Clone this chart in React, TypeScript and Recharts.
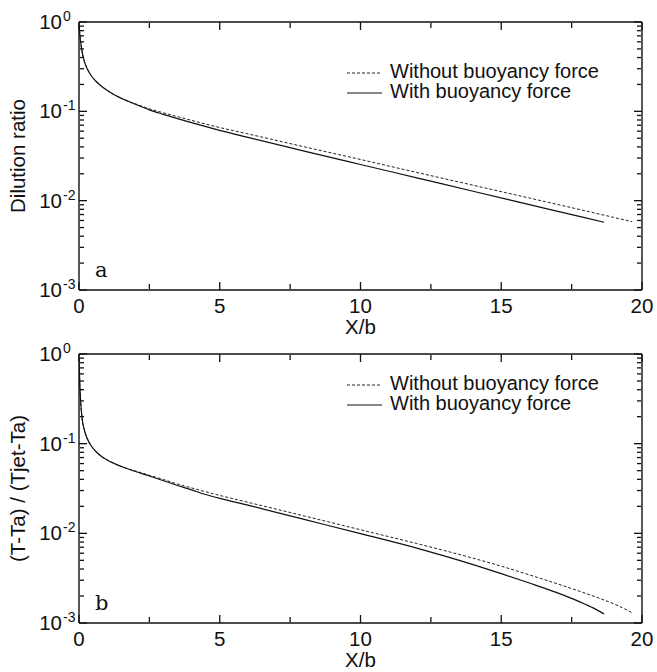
import React from "react";
import { LineChart, Line, XAxis, YAxis } from "recharts";

const FONT = "'Liberation Sans', Arimo, Roboto, Arial, Helvetica, sans-serif";
const FS = 20.5;

// tick values
const xMajorTicks = [0, 5, 10, 15, 20];
const xMinorTicks = [2.5, 7.5, 12.5, 17.5];
const decades = [0.001, 0.01, 0.1, 1];
const minorSteps = [2, 3, 4, 5, 6, 7, 8, 9];
const seriesNames = ["Without buoyancy force", "With buoyancy force"];

// panel a: dilution ratio
const aWithX = [0, 0.05, 0.1, 0.2, 0.3, 0.45, 0.6, 0.8, 1, 1.25, 1.5, 1.75, 2, 2.5, 3, 3.5, 4, 4.8, 6, 8, 10, 12, 14, 16, 18, 18.65];
const aWithY = [0.925, 0.628, 0.484, 0.355, 0.296, 0.247, 0.217, 0.191, 0.172, 0.153, 0.14, 0.1295, 0.1199, 0.1039, 0.0925, 0.0828, 0.0746, 0.0636, 0.051, 0.0359, 0.0254, 0.018, 0.01275, 0.00904, 0.00641, 0.00573];
const aWithoutX = [0, 0.05, 0.1, 0.2, 0.3, 0.45, 0.6, 0.8, 1, 1.25, 1.5, 1.75, 2, 2.5, 3, 3.5, 4, 4.8, 6, 8, 10, 12, 14, 16, 18, 19, 19.65];
const aWithoutY = [0.925, 0.628, 0.484, 0.355, 0.296, 0.247, 0.217, 0.191, 0.172, 0.153, 0.14, 0.1295, 0.1214, 0.1067, 0.0962, 0.0872, 0.0792, 0.0682, 0.0559, 0.0401, 0.0289, 0.0207, 0.01489, 0.0107, 0.00768, 0.00649, 0.00581];

// panel b: temperature ratio
const bWithX = [0, 0.03, 0.06, 0.1, 0.2, 0.3, 0.45, 0.6, 0.8, 1, 1.25, 1.5, 1.75, 2, 2.5, 3, 3.5, 4, 4.5, 5, 6, 8, 10, 12, 13, 14, 15, 16, 17, 17.5, 18, 18.3, 18.65];
const bWithY = [0.902, 0.451, 0.2917, 0.2036, 0.1385, 0.1128, 0.093, 0.0818, 0.072, 0.0658, 0.0602, 0.0557, 0.0522, 0.049, 0.0436, 0.0386, 0.0342, 0.0305, 0.0271, 0.0245, 0.0206, 0.01429, 0.00992, 0.00684, 0.00557, 0.00448, 0.00355, 0.00279, 0.002166, 0.00188, 0.00161, 0.001455, 0.001263];
const bWithoutX = [0, 0.03, 0.06, 0.1, 0.2, 0.3, 0.45, 0.6, 0.8, 1, 1.25, 1.5, 1.75, 2, 2.5, 3, 3.5, 4, 4.5, 5, 6, 8, 10, 12, 13, 14, 15, 16, 17, 18, 18.5, 19, 19.3, 19.69];
const bWithoutY = [0.902, 0.451, 0.2917, 0.2036, 0.1385, 0.1128, 0.093, 0.0818, 0.072, 0.0658, 0.0602, 0.0557, 0.0522, 0.0496, 0.0444, 0.0398, 0.0355, 0.0321, 0.0291, 0.02646, 0.0222, 0.01563, 0.01096, 0.00769, 0.0064, 0.00528, 0.0043, 0.00344, 0.00273, 0.002138, 0.00188, 0.001633, 0.001481, 0.001279];

const toPoints = (xs: number[], ys: number[]) => xs.map((x, i) => ({ x, y: ys[i] }));

const yMinorTicks = decades.slice(0, -1).flatMap((d) => minorSteps.map((m) => d * m));

const INK = "#111";
const frame = { stroke: INK, strokeWidth: 1.4 };
const tickLine = { stroke: INK, strokeWidth: 1.3 };
const noLabel = () => <g />;

function DecadeLabel(props: any) {
  const { x, y, payload } = props;
  const exp = Math.round(Math.log10(payload.value));
  return (
    <g>
      <text x={x - 17} y={y + 7} textAnchor="end" fontSize={FS} style={{ fontFamily: FONT }} fill={INK}>10</text>
      <text x={x - 16} y={y - 1} fontSize={14} style={{ fontFamily: FONT }} fill={INK}>{exp}</text>
    </g>
  );
}

function XLabel(props: any) {
  const { x, y, payload } = props;
  return (
    <text x={x} y={y + 23} textAnchor="middle" fontSize={FS} style={{ fontFamily: FONT }} fill={INK}>
      {payload.value}
    </text>
  );
}

function Panel({ top, height, marginTop, plotBottom, yTitle, letter, letterY, legendY, without, withB }: any) {
  const cy = (marginTop + plotBottom) / 2;
  const xCommon = { type: "number" as const, dataKey: "x", domain: [0, 20], interval: 0 as const, allowDataOverflow: true };
  const yCommon = { type: "number" as const, scale: "log" as const, domain: [0.001, 1], interval: 0 as const, allowDataOverflow: true };
  return (
    <div style={{ position: "absolute", left: 0, top, width: 657, height, fontFamily: FONT }}>
      <LineChart width={657} height={height} margin={{ top: marginTop, right: 15, bottom: 0, left: 0 }}>
        {/* labelled axes (frame bottom / left) */}
        <XAxis
          xAxisId="b"
          {...xCommon}
          ticks={xMajorTicks}
          tickSize={0}
          tickMargin={0}
          tickLine={false}
          axisLine={frame}
          height={height - plotBottom}
          tick={<XLabel />}
          label={{
            content: () => (
              <text x={360.5} y={plotBottom + 44} textAnchor="middle" fontSize={FS} style={{ fontFamily: FONT }} fill={INK}>
                X/b
              </text>
            ),
          }}
        />
        <YAxis
          yAxisId="l"
          {...yCommon}
          ticks={decades}
          tickSize={0}
          tickMargin={0}
          tickLine={false}
          axisLine={frame}
          width={79}
          tick={<DecadeLabel />}
          label={{
            content: () => (
              <text
                x={18}
                y={cy}
                dy={7}
                transform={`rotate(-90 18 ${cy})`}
                textAnchor="middle"
                fontSize={FS}
                style={{ fontFamily: FONT }}
                fill={INK}
              >
                {yTitle}
              </text>
            ),
          }}
        />
        {/* inward tick marks, mirrored axes */}
        <XAxis xAxisId="bM" {...xCommon} orientation="bottom" mirror ticks={xMajorTicks} tickSize={8} height={1} axisLine={false} tickLine={tickLine} tick={noLabel} />
        <XAxis xAxisId="bm" {...xCommon} orientation="bottom" mirror ticks={xMinorTicks} tickSize={5} height={1} axisLine={false} tickLine={tickLine} tick={noLabel} />
        <XAxis xAxisId="tM" {...xCommon} orientation="top" mirror ticks={xMajorTicks} tickSize={8} height={1} axisLine={frame} tickLine={tickLine} tick={noLabel} />
        <XAxis xAxisId="tm" {...xCommon} orientation="top" mirror ticks={xMinorTicks} tickSize={5} height={1} axisLine={false} tickLine={tickLine} tick={noLabel} />
        <YAxis yAxisId="lM" {...yCommon} orientation="left" mirror ticks={decades} tickSize={8} width={1} axisLine={false} tickLine={tickLine} tick={noLabel} />
        <YAxis yAxisId="lm" {...yCommon} orientation="left" mirror ticks={yMinorTicks} tickSize={4} width={1} axisLine={false} tickLine={tickLine} tick={noLabel} />
        <YAxis yAxisId="rM" {...yCommon} orientation="right" mirror ticks={decades} tickSize={8} width={1} axisLine={frame} tickLine={tickLine} tick={noLabel} />
        <YAxis yAxisId="rm" {...yCommon} orientation="right" mirror ticks={yMinorTicks} tickSize={4} width={1} axisLine={false} tickLine={tickLine} tick={noLabel} />
        <Line
          xAxisId="b"
          yAxisId="l"
          data={without}
          dataKey="y"
          name={seriesNames[0]}
          type="monotone"
          stroke="#222"
          strokeWidth={1}
          strokeDasharray="3 2"
          dot={false}
          isAnimationActive={false}
        />
        <Line
          xAxisId="b"
          yAxisId="l"
          data={withB}
          dataKey="y"
          name={seriesNames[1]}
          type="monotone"
          stroke={INK}
          strokeWidth={1.2}
          dot={false}
          isAnimationActive={false}
        />
      </LineChart>
      <svg width={657} height={height} style={{ position: "absolute", left: 0, top: 0, pointerEvents: "none" }}>
        <line x1={347} x2={382} y1={legendY} y2={legendY} stroke="#222" strokeWidth={1} strokeDasharray="3 2" />
        <text x={390} y={legendY + 5} fontSize={20} style={{ fontFamily: FONT }} fill={INK}>{seriesNames[0]}</text>
        <line x1={347} x2={382} y1={legendY + 20} y2={legendY + 20} stroke={INK} strokeWidth={1.2} />
        <text x={390} y={legendY + 25} fontSize={20} style={{ fontFamily: FONT }} fill={INK}>{seriesNames[1]}</text>
        <text x={95} y={letterY} fontSize={21} style={{ fontFamily: "'DejaVu Serif', serif" }} fill={INK}>{letter}</text>
      </svg>
    </div>
  );
}

export default function App() {
  return (
    <div style={{ position: "absolute", left: 0, top: 0, width: 657, height: 672, background: "#fff" }}>
      <Panel
        top={0}
        height={344}
        marginTop={22}
        plotBottom={290}
        yTitle="Dilution ratio"
        letter="a"
        letterY={277}
        legendY={73}
        without={toPoints(aWithoutX, aWithoutY)}
        withB={toPoints(aWithX, aWithY)}
      />
      <Panel
        top={336}
        height={336}
        marginTop={18}
        plotBottom={287}
        yTitle="(T-Ta) / (Tjet-Ta)"
        letter="b"
        letterY={274}
        legendY={49}
        without={toPoints(bWithoutX, bWithoutY)}
        withB={toPoints(bWithX, bWithY)}
      />
    </div>
  );
}
